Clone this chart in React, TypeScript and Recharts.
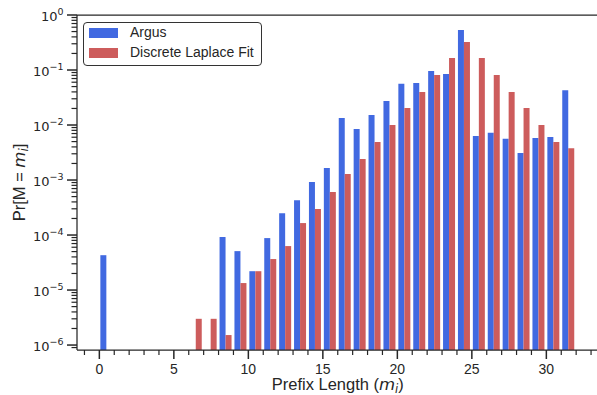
import React from 'react';
import { BarChart, Bar, XAxis, YAxis, Legend, ReferenceLine } from 'recharts';

// ---------- data ----------
const prefixLengths = [
  0, 1, 2, 3, 4, 5, 6, 7, 8, 9, 10, 11, 12, 13, 14, 15,
  16, 17, 18, 19, 20, 21, 22, 23, 24, 25, 26, 27, 28, 29, 30, 31,
];
const argusProb: (number | null)[] = [
  4.3e-5, null, null, null, null, null, null, null,
  9.2e-5, 5.1e-5, 2.2e-5, 8.8e-5, 2.5e-4, 4.3e-4, 9.2e-4, 1.65e-3,
  1.34e-2, 8.5e-3, 1.52e-2, 2.73e-2, 5.6e-2, 5.8e-2, 9.6e-2, 8.5e-2,
  0.533, 6.3e-3, 7.2e-3, 5.6e-3, 3.1e-3, 5.8e-3, 6.05e-3, 4.3e-2,
];
const laplaceProb: (number | null)[] = [
  null, null, null, null, null, null, 3.0e-6, 3.0e-6,
  1.52e-6, 1.34e-5, 2.2e-5, 3.66e-5, 6.3e-5, 1.65e-4, 2.97e-4, 6.05e-4,
  1.29e-3, 2.4e-3, 4.9e-3, 1.0e-2, 2.04e-2, 4.0e-2, 8.1e-2, 0.165,
  0.323, 0.165, 8.1e-2, 4.0e-2, 2.04e-2, 1.0e-2, 4.9e-3, 3.8e-3,
];
const seriesNames = ['Argus', 'Discrete Laplace Fit'];
const seriesColors = ['#4169E1', '#CD5C5C'];

const xMajorLabels = [0, 5, 10, 15, 20, 25, 30];
const yDecades = [-6, -5, -4, -3, -2, -1, 0];

// ---------- derived ----------
const data = prefixLengths.map((m, i) => ({
  x: m + 0.5,
  argus: argusProb[i],
  laplace: laplaceProb[i],
}));

const X_DOMAIN: [number, number] = [-1.5, 33.5];
const Y_MIN = Math.pow(10, -6.09);
const Y_DOMAIN: [number, number] = [Y_MIN, 1];

const xTicks: number[] = [];
for (let v = -1; v <= 33; v++) xTicks.push(v);

const yTicks: number[] = [];
for (const d of yDecades) {
  yTicks.push(Math.pow(10, d));
  if (d < 0) {
    for (let m = 2; m <= 9; m++) yTicks.push(m * Math.pow(10, d));
  }
}
yTicks.push(9 * Math.pow(10, -7));

const AXIS = '#262626';
const SANS = '"Liberation Sans", Arial, sans-serif';
const DEJAVU = '"DejaVu Sans", sans-serif';

const XTick = (props: any) => {
  const { x, y, payload } = props;
  const v = payload.value;
  const major = v % 5 === 0;
  const showLabel = major && xMajorLabels.includes(v);
  return (
    <g>
      <line
        x1={x}
        x2={x}
        y1={y}
        y2={y + (major ? 9 : 5)}
        stroke={AXIS}
        strokeWidth={major ? 1.5 : 1.2}
      />
      {showLabel && (
        <text x={x} y={y + 24} textAnchor="middle" fontSize={14} fill={AXIS} fontFamily={SANS}>
          {v}
        </text>
      )}
    </g>
  );
};

const YTick = (props: any) => {
  const { x, y, payload } = props;
  const v = payload.value;
  const lg = Math.log10(v);
  const exp = Math.round(lg);
  const major = Math.abs(lg - exp) < 1e-9;
  return (
    <g>
      <line
        x1={x - (major ? 10 : 5.5)}
        x2={x}
        y1={y}
        y2={y}
        stroke={AXIS}
        strokeWidth={major ? 1.5 : 1.2}
      />
      {major && (
        <text x={x - 13.5} y={y + 5.7} textAnchor="end" fontSize={13} fill={AXIS} fontFamily={DEJAVU}>
          <tspan>10</tspan>
          <tspan fontSize={9.5} dy={-5.4}>
            {exp < 0 ? '\u2212' + String(-exp) : String(exp)}
          </tspan>
        </text>
      )}
    </g>
  );
};

const YLabel = (props: any) => {
  const vb = props.viewBox || {};
  const cy = vb.y !== undefined ? vb.y + vb.height / 2 : 182.5;
  return (
    <text
      transform={`translate(24.5, ${cy}) rotate(-90)`}
      textAnchor="middle"
      fontSize={16.5}
      fill={AXIS}
      fontFamily={SANS}
    >
      <tspan>Pr[M = </tspan>
      <tspan fontStyle="italic" fontFamily={DEJAVU}>m</tspan>
      <tspan fontStyle="italic" fontFamily={DEJAVU} fontSize={11.5} dy={3.5}>i</tspan>
      <tspan dy={-3.5}>]</tspan>
    </text>
  );
};

const XLabel = (props: any) => {
  const vb = props.viewBox || {};
  const cx = vb.x !== undefined ? vb.x + vb.width / 2 : 337.8;
  return (
    <text x={cx} y={389.5} textAnchor="middle" fontSize={16.5} fill={AXIS} fontFamily={SANS}>
      <tspan>Prefix Length (</tspan>
      <tspan fontStyle="italic" fontFamily={DEJAVU}>m</tspan>
      <tspan fontStyle="italic" fontFamily={DEJAVU} fontSize={11.5} dy={3.5}>i</tspan>
      <tspan dy={-3.5}>)</tspan>
    </text>
  );
};

const LegendBox = () => (
  <div
    style={{
      width: 178.5,
      height: 44.5,
      boxSizing: 'border-box',
      border: '1px solid #333',
      borderRadius: 4,
      background: '#fff',
      position: 'relative',
      fontFamily: SANS,
      fontSize: 14,
      color: AXIS,
    }}
  >
    {seriesNames.map((name, i) => (
      <div
        key={name}
        style={{
          position: 'absolute',
          left: 4.7,
          top: 5.6 + i * 20,
          height: 9.4,
          display: 'flex',
          alignItems: 'center',
          whiteSpace: 'nowrap',
        }}
      >
        <span style={{ display: 'inline-block', width: 28.7, height: 9.4, background: seriesColors[i] }} />
        <span style={{ marginLeft: 12.3, lineHeight: '9.4px' }}>{name}</span>
      </div>
    ))}
  </div>
);

export default function App() {
  return (
    <div style={{ position: 'absolute', left: 0, top: 0, width: 597, height: 395, overflow: 'hidden', background: '#fff' }}>
      <BarChart
        width={600}
        height={395}
        data={data}
        margin={{ top: 15, right: 1.5, bottom: 0, left: 0 }}
        barGap={0}
        barSize={6}
      >
        <XAxis
          dataKey="x"
          type="number"
          domain={X_DOMAIN}
          allowDataOverflow
          ticks={xTicks}
          interval={0}
          tick={<XTick />}
          tickLine={false}
          tickSize={0}
          tickMargin={0}
          height={45}
          axisLine={{ stroke: AXIS, strokeWidth: 1.25 }}
          label={<XLabel />}
        />
        <YAxis
          type="number"
          scale="log"
          domain={Y_DOMAIN}
          allowDataOverflow
          ticks={yTicks}
          interval={0}
          tick={<YTick />}
          tickLine={false}
          tickSize={0}
          tickMargin={0}
          width={77}
          axisLine={{ stroke: AXIS, strokeWidth: 1.25 }}
          label={<YLabel />}
        />
        <ReferenceLine y={1} stroke={AXIS} strokeWidth={1.25} />
        <Legend
          layout="vertical"
          align="center"
          verticalAlign="middle"
          wrapperStyle={{ left: 83.3, top: 21.7, width: 178.5, height: 44.5 }}
          content={<LegendBox />}
        />
        <Bar dataKey="argus" name={seriesNames[0]} fill={seriesColors[0]} isAnimationActive={false} />
        <Bar dataKey="laplace" name={seriesNames[1]} fill={seriesColors[1]} isAnimationActive={false} />
      </BarChart>
    </div>
  );
}
